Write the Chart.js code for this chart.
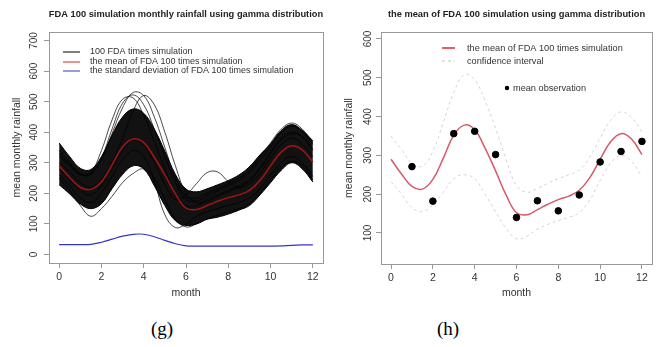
<!DOCTYPE html>
<html>
<head>
<meta charset="utf-8">
<script src="https://cdn.jsdelivr.net/npm/chart.js@4.4.1/dist/chart.umd.min.js"></script>
<style>
  html, body { margin:0; padding:0; background:#fff; width:657px; height:347px; overflow:hidden; }
  .wrap { position:absolute; top:0; height:305px; }
  .cap { position:absolute; top:318px; font-family:"Liberation Serif","DejaVu Serif",serif; font-size:19px; color:#000; transform:translateX(-50%); }
</style>
</head>
<body>
<div class="wrap" style="left:0;width:330px;"><canvas id="c1" width="330" height="305"></canvas></div>
<div class="wrap" style="left:330px;width:327px;"><canvas id="c2" width="327" height="305"></canvas></div>
<div class="cap" style="left:162px;">(g)</div>
<div class="cap" style="left:448px;">(h)</div>
<script>
// ---------- data ----------
const months = [0,0.5,1,1.5,2,2.5,3,3.5,4,4.5,5,5.5,6,6.5,7,7.5,8,8.5,9,9.5,10,10.5,11,11.5,12];
const xTicks = [0,2,4,6,8,10,12];
const yTicksLeft = [0,100,200,300,400,500,600,700];
const yTicksRight = [100,200,300,400,500,600];

// mean of the 100 FDA simulations
const meanSim = [290,252,220,213,238,293,352,378,366,318,260,198,152,147,160,174,186,195,210,242,290,335,356,342,302];
// standard deviation of the 100 simulations
const sdSim = [32,32,32,33,40,50,60,66,66,58,46,35,28,27,27,27,27,27,27,27,27,28,30,31,31];
// dense band of the 100 simulated curves (upper / lower edge)
const bandUpper = [365,320,282,278,320,390,450,476,462,410,338,262,214,205,215,228,242,260,287,326,362,405,425,406,372];
const bandLower = [228,198,165,150,166,215,262,290,280,225,160,110,95,100,115,122,132,145,160,195,235,275,300,280,237];
// individual simulated curves standing out of the band
const simA = [340,300,265,265,310,395,480,530,520,450,350,250,190,185,200,215,232,250,275,320,365,410,430,410,365];
const simB = [320,290,260,270,340,440,508,512,455,370,280,200,160,160,180,195,210,225,245,285,335,380,400,385,340];
const simC = [300,270,235,220,245,300,380,470,520,490,400,290,200,170,175,190,205,220,240,280,330,375,395,385,345];
const simD = [250,210,160,125,150,190,235,265,280,250,180,115,90,100,118,128,140,150,168,200,245,285,305,290,245];
const simE = [280,245,210,195,225,280,340,375,360,300,230,180,195,232,268,270,238,218,232,265,315,360,380,360,320];
const simF = [260,225,185,170,200,255,310,340,320,240,130,88,100,125,140,150,160,170,185,215,260,300,320,300,255];
const simG = [330,295,262,262,315,410,495,522,490,410,320,235,180,175,192,208,225,242,268,308,352,398,420,402,360];
// confidence interval of the mean
const ciUpper = [350,315,280,272,310,385,462,508,495,440,370,290,222,205,215,228,240,250,262,295,345,390,412,398,360];
const ciLower = [232,200,165,155,172,205,240,250,240,200,155,112,85,92,110,122,132,140,152,185,235,280,300,285,245];
// mean observation
const obsMonths = [1,2,3,4,5,6,7,8,9,10,11,12];
const obsMean = [271,182,356,362,302,140,183,157,198,283,310,336];

// ---------- helpers ----------
const pts = (xs, ys) => xs.map((x,i) => ({x:x, y:ys[i]}));
const FONT = '"Liberation Sans", Arial, sans-serif';
const TXT = '#333';
const TENSION = 0.4;

function rPlotPlugin(cfg) {
  return {
    id: 'rplot',
    afterDraw(chart) {
      const ctx = chart.ctx, ca = chart.chartArea, ys = chart.scales.y;
      ctx.save();
      // box
      ctx.strokeStyle = '#999'; ctx.lineWidth = 1;
      ctx.strokeRect(Math.round(ca.left)+0.5, Math.round(ca.top)+0.5, Math.round(ca.right-ca.left), Math.round(ca.bottom-ca.top));
      // title
      ctx.fillStyle = '#222';
      ctx.font = 'bold 9.3px ' + FONT;
      ctx.textAlign = 'center'; ctx.textBaseline = 'middle';
      ctx.fillText(cfg.title, (ca.left+ca.right)/2, 14);
      // x title
      ctx.fillStyle = TXT;
      ctx.font = '10.5px ' + FONT;
      ctx.fillText('month', (ca.left+ca.right)/2, 293);
      // y tick labels (rotated, R style)
      ctx.font = '10px ' + FONT;
      ys.ticks.forEach(t => {
        const py = ys.getPixelForValue(t.value);
        ctx.save();
        ctx.translate(ca.left - cfg.yLabOff, py);
        ctx.rotate(-Math.PI/2);
        ctx.fillText(String(t.value), 0, 0);
        ctx.restore();
      });
      // y title
      ctx.font = '10.5px ' + FONT;
      ctx.save();
      ctx.translate(cfg.yTitleX, (ca.top+ca.bottom)/2);
      ctx.rotate(-Math.PI/2);
      ctx.fillText('mean monthly rainfall', 0, 0);
      ctx.restore();
      // legend
      ctx.font = cfg.legendFont + 'px ' + FONT;
      ctx.textAlign = 'left';
      cfg.legend.forEach(it => {
        const y = ca.top + it.dy;
        if (it.type === 'line') {
          ctx.strokeStyle = it.color; ctx.lineWidth = it.width || 1;
          ctx.setLineDash(it.dash || []);
          ctx.beginPath(); ctx.moveTo(ca.left+it.x0, y); ctx.lineTo(ca.left+it.x1, y); ctx.stroke();
          ctx.setLineDash([]);
        } else {
          ctx.fillStyle = '#000';
          ctx.beginPath(); ctx.arc(ca.left+it.x0, y, 2.2, 0, Math.PI*2); ctx.fill();
        }
        ctx.fillStyle = TXT;
        ctx.fillText(it.label, ca.left+it.tx, y);
      });
      ctx.restore();
    }
  };
}

function baseOptions(ymin, ymax, yTicks, padRight, xAxisH, yAxisW) {
  return {
    responsive:false, animation:false,
    layout:{padding:{top:32, right:padRight, bottom:0, left:0}},
    plugins:{legend:{display:false}, tooltip:{enabled:false}},
    elements:{point:{radius:0}, line:{tension:TENSION}},
    scales:{
      x:{type:'linear', min:-0.48, max:12.48,
         afterBuildTicks: s => { s.ticks = xTicks.map(v => ({value:v})); },
         afterFit: s => { s.height = xAxisH; },
         grid:{display:true, drawOnChartArea:false, drawTicks:true, tickLength:5, color:'#999'},
         border:{display:false},
         ticks:{font:{family:FONT, size:10.5}, color:TXT, padding:3, maxRotation:0, autoSkip:false}},
      y:{type:'linear', min:ymin, max:ymax,
         afterBuildTicks: s => { s.ticks = yTicks.map(v => ({value:v})); },
         afterFit: s => { s.width = yAxisW; },
         grid:{display:true, drawOnChartArea:false, drawTicks:true, tickLength:5, color:'#999'},
         border:{display:false},
         ticks:{display:false}}
    }
  };
}

// ---------- chart (g) ----------
const simStyle = {borderColor:'rgba(0,0,0,0.9)', borderWidth:0.8, fill:false, order:3};
new Chart(document.getElementById('c1'), {
  type:'line',
  data:{datasets:[
    {label:'sd', data:pts(months, sdSim), borderColor:'#3333cc', borderWidth:1.2, fill:false, order:0},
    {label:'mean', data:pts(months, meanSim), borderColor:'#a51515', borderWidth:1.5, fill:false, order:1},
    Object.assign({label:'A', data:pts(months, simA)}, simStyle),
    Object.assign({label:'B', data:pts(months, simB)}, simStyle),
    Object.assign({label:'C', data:pts(months, simC)}, simStyle),
    Object.assign({label:'D', data:pts(months, simD)}, simStyle),
    Object.assign({label:'E', data:pts(months, simE)}, simStyle),
    Object.assign({label:'F', data:pts(months, simF)}, simStyle),
    Object.assign({label:'G', data:pts(months, simG)}, simStyle),
    {label:'bandU', data:pts(months, bandUpper), borderColor:'#000', borderWidth:1, fill:false, order:4},
    {label:'bandL', data:pts(months, bandLower), borderColor:'#000', borderWidth:1, fill:'-1', backgroundColor:'rgba(5,5,5,0.95)', order:5}
  ]},
  options: baseOptions(-28, 728, yTicksLeft, 7, 42, 49),
  plugins:[rPlotPlugin({
    title:'FDA 100 simulation monthly rainfall using gamma distribution',
    yLabOff:15, yTitleX:17, legendFont:9,
    legend:[
      {type:'line', color:'#000', x0:14, x1:31, tx:41, dy:20, label:'100 FDA times simulation'},
      {type:'line', color:'#e02020', x0:14, x1:31, tx:41, dy:30, label:'the mean of FDA 100 times simulation'},
      {type:'line', color:'#3333cc', x0:14, x1:31, tx:41, dy:39, label:'the standard deviation of FDA 100 times simulation'}
    ]
  })]
});

// ---------- chart (h) ----------
new Chart(document.getElementById('c2'), {
  type:'line',
  data:{datasets:[
    {label:'obs', data:pts(obsMonths, obsMean), showLine:false, pointRadius:3.3, pointBackgroundColor:'#000', pointBorderColor:'#000', order:0},
    {label:'mean', data:pts(months, meanSim), borderColor:'#d65a68', borderWidth:1.5, fill:false, order:1},
    {label:'ciU', data:pts(months, ciUpper), borderColor:'#d4d4d4', borderWidth:1, borderDash:[3,3], fill:false, order:2},
    {label:'ciL', data:pts(months, ciLower), borderColor:'#d4d4d4', borderWidth:1, borderDash:[3,3], fill:false, order:2}
  ]},
  options: baseOptions(20, 618, yTicksRight, 2, 41, 51),
  plugins:[rPlotPlugin({
    title:'the mean of FDA 100 simulation using gamma distribution',
    yLabOff:13, yTitleX:19, legendFont:9.2,
    legend:[
      {type:'line', color:'#e06070', width:2, x0:61, x1:74, tx:86, dy:16, label:'the mean of FDA 100 times simulation'},
      {type:'line', color:'#c0c0c0', dash:[3,3], x0:61, x1:74, tx:86, dy:29, label:'confidence interval'},
      {type:'dot', x0:126, tx:132, dy:56, label:'mean observation'}
    ]
  })]
});
</script>
</body>
</html>
